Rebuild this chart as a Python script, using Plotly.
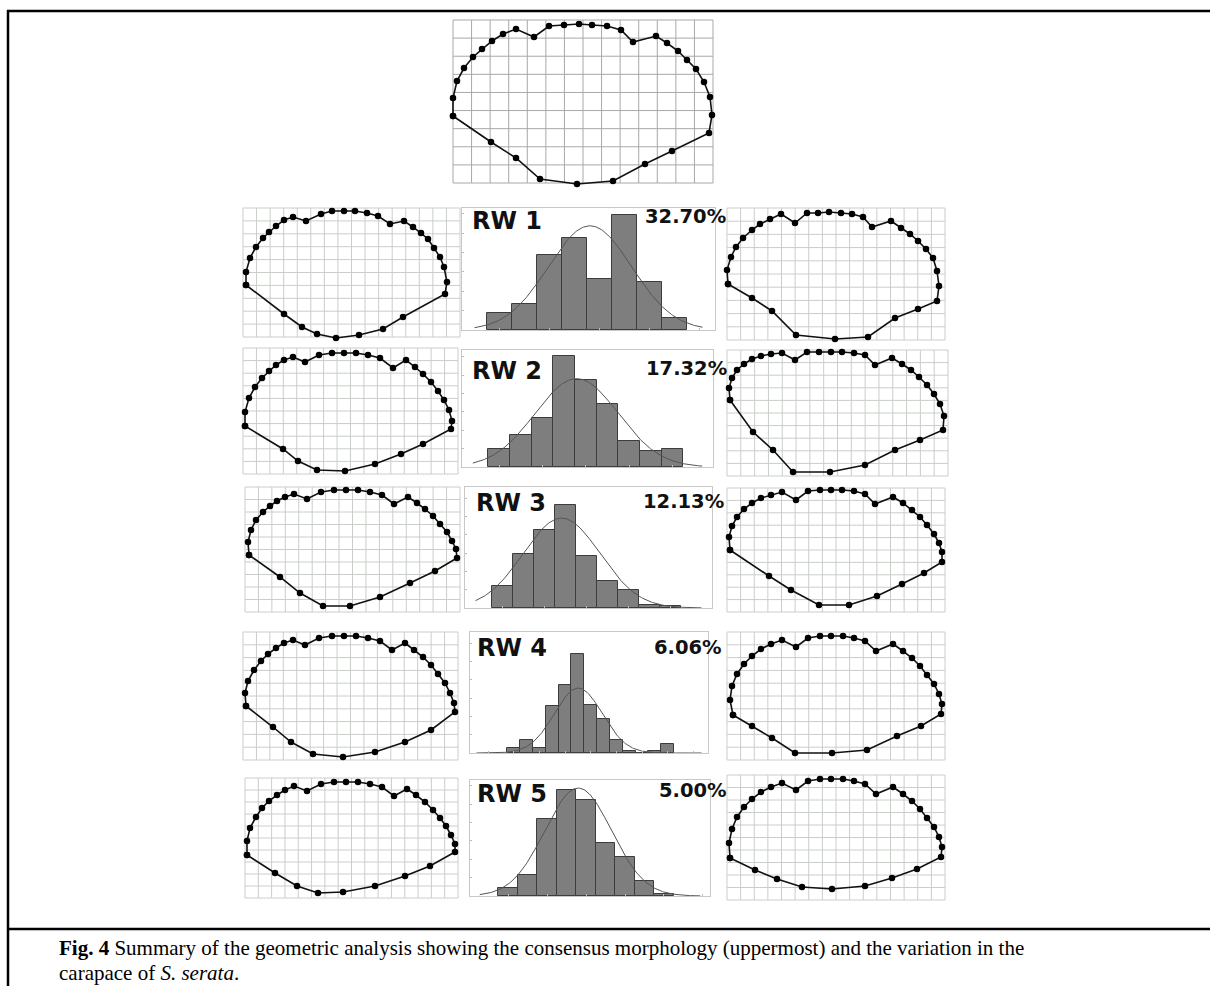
import numpy as np
import plotly.graph_objects as go

W, H = 1210, 986

# ---------------- data ----------------
rw_labels = ["RW 1", "RW 2", "RW 3", "RW 4", "RW 5"]
rw_pct = ["32.70%", "17.32%", "12.13%", "6.06%", "5.00%"]

rw1_counts = [4.3, 6.8, 19.4, 23.8, 13.1, 29.6, 12.4, 3.0]
rw2_counts = [5.0, 8.8, 13.4, 30.2, 23.6, 17.3, 7.0, 4.3, 5.0]
rw3_counts = [5.9, 14.8, 21.4, 28.0, 14.2, 7.5, 4.8, 0.9, 0.45]
rw4_counts = [1.4, 3.6, 1.4, 12.7, 18.5, 27.1, 13.0, 9.4, 3.5, 0.45, 0.0, 0.45, 2.5]
rw5_counts = [2.3, 5.7, 20.9, 28.9, 26.2, 14.5, 10.7, 4.2, 0.5]

# fitted normal curve (mean, sd in bin units, peak in counts)
curve_mean = [3.63, 3.58, 2.83, 5.03, 3.60]
curve_sd = [1.67, 1.92, 1.83, 1.87, 1.71]
curve_peak = [26.9, 24.1, 24.5, 17.7, 29.4]

# histogram axis extents (bin units / counts)
hist_xrange = [[-1.49, 8.63], [-1.71, 9.87], [-1.77, 9.99], [-3.41, 15.14], [-1.95, 10.36]]
hist_ytop = [31.5, 31.9, 33.0, 33.0, 31.6]

# landmark coordinates (local frame of each panel, y downwards)
consensus_x = [0, 0, 4, 11, 20, 29, 39, 50, 63, 81, 96, 111, 126, 139, 154, 168, 180,
               203, 214, 225, 234, 243, 251, 257, 259, 256, 219, 192, 160, 124, 87, 63, 38]
consensus_y = [96, 78, 61, 48, 37, 29, 21, 14, 9, 17, 6, 5, 4, 5, 6, 10, 22,
               16, 23, 31, 40, 49, 62, 77, 95, 113, 131, 144, 161, 164, 159, 138, 122]

rw1_left_x = [3, 3, 7, 13, 20, 26, 33, 41, 50, 63, 78, 89, 101, 112, 124, 135, 147,
              161, 170, 178, 185, 191, 197, 201, 204, 202, 160, 140, 116, 93, 74, 59, 41]
rw1_left_y = [77, 64, 50, 39, 30, 24, 18, 12, 9, 13, 6, 3, 3, 3, 5, 8, 16,
              13, 19, 25, 31, 40, 49, 59, 74, 86, 109, 121, 127, 130, 126, 119, 106]
rw1_right_x = [1, 0, 4, 9, 16, 25, 33, 43, 54, 68, 80, 91, 102, 114, 125, 136, 145,
               164, 174, 183, 191, 199, 206, 210, 212, 210, 191, 168, 141, 108, 69, 45, 25]
rw1_right_y = [76, 62, 49, 39, 30, 22, 16, 11, 6, 15, 5, 5, 4, 5, 6, 9, 19,
               13, 20, 26, 33, 41, 50, 63, 78, 93, 101, 110, 129, 131, 127, 103, 90]

rw2_left_x = [2, 2, 6, 12, 19, 26, 33, 41, 50, 62, 76, 89, 101, 113, 125, 137, 150,
              163, 172, 180, 188, 195, 201, 206, 209, 208, 180, 158, 132, 102, 74, 55, 40]
rw2_left_y = [78, 64, 50, 39, 30, 23, 17, 12, 9, 14, 7, 5, 5, 5, 7, 10, 20,
              12, 19, 26, 34, 43, 52, 62, 73, 81, 96, 106, 116, 123, 122, 113, 101]
rw2_right_x = [3, 2, 5, 10, 17, 25, 34, 44, 55, 68, 80, 92, 104, 115, 127, 138, 148,
               165, 175, 184, 192, 200, 207, 213, 217, 216, 193, 168, 138, 103, 66, 46, 26]
rw2_right_y = [50, 38, 28, 20, 14, 9, 6, 4, 3, 10, 2, 2, 2, 2, 3, 5, 15,
               8, 14, 20, 27, 35, 44, 54, 66, 80, 90, 100, 115, 122, 122, 100, 82]

rw3_left_x = [4, 3, 6, 11, 18, 25, 32, 40, 49, 62, 76, 89, 101, 113, 125, 137, 149,
              163, 172, 180, 188, 195, 202, 207, 211, 212, 190, 165, 135, 105, 78, 55, 35]
rw3_left_y = [68, 55, 43, 33, 25, 19, 14, 10, 7, 12, 5, 3, 3, 3, 5, 8, 17,
              10, 16, 22, 29, 37, 45, 54, 62, 71, 84, 96, 110, 119, 119, 106, 90]
rw3_right_x = [3, 2, 5, 10, 17, 25, 34, 44, 55, 69, 81, 93, 104, 115, 127, 138, 148,
               166, 176, 185, 193, 200, 207, 212, 215, 215, 197, 175, 150, 122, 92, 64, 42]
rw3_right_y = [62, 49, 38, 29, 21, 15, 10, 7, 4, 12, 3, 2, 2, 2, 3, 6, 16,
               9, 15, 22, 29, 37, 46, 55, 64, 74, 85, 96, 108, 117, 117, 102, 88]

rw4_left_x = [3, 2, 5, 11, 18, 25, 33, 41, 50, 62, 76, 89, 101, 113, 125, 137, 149,
              162, 171, 180, 188, 195, 202, 207, 211, 212, 188, 162, 132, 100, 70, 48, 30]
rw4_left_y = [74, 61, 49, 38, 29, 22, 16, 11, 8, 13, 6, 4, 4, 4, 6, 9, 18,
              11, 18, 25, 33, 42, 51, 61, 71, 80, 98, 110, 120, 125, 122, 110, 95]
rw4_right_x = [6, 3, 5, 10, 17, 25, 34, 44, 55, 69, 81, 93, 104, 116, 127, 138, 149,
               166, 176, 185, 193, 200, 207, 212, 215, 214, 194, 170, 140, 105, 68, 45, 25]
rw4_right_y = [83, 68, 54, 42, 32, 24, 17, 12, 8, 15, 6, 4, 4, 4, 6, 9, 19,
               12, 19, 26, 34, 43, 52, 62, 72, 82, 94, 104, 118, 121, 121, 106, 94]

rw5_left_x = [2, 2, 5, 11, 17, 24, 32, 40, 49, 62, 76, 89, 101, 113, 125, 137, 149,
              162, 171, 180, 188, 195, 201, 206, 210, 210, 185, 160, 130, 98, 73, 52, 30]
rw5_left_y = [77, 63, 50, 39, 30, 23, 17, 12, 8, 13, 6, 4, 4, 4, 6, 9, 18,
              11, 17, 24, 32, 40, 48, 57, 66, 74, 88, 98, 108, 114, 115, 108, 95]
rw5_right_x = [3, 2, 5, 10, 17, 25, 34, 44, 55, 69, 81, 93, 104, 116, 127, 138, 149,
               166, 176, 185, 193, 200, 207, 212, 215, 214, 190, 165, 138, 105, 75, 50, 28]
rw5_right_y = [83, 68, 54, 42, 32, 24, 17, 12, 8, 15, 6, 4, 4, 4, 6, 9, 19,
               12, 19, 26, 34, 43, 52, 62, 72, 82, 94, 103, 111, 114, 112, 104, 95]

shape_data = {
    "cons": (consensus_x, consensus_y),
    "L1": (rw1_left_x, rw1_left_y), "R1": (rw1_right_x, rw1_right_y),
    "L2": (rw2_left_x, rw2_left_y), "R2": (rw2_right_x, rw2_right_y),
    "L3": (rw3_left_x, rw3_left_y), "R3": (rw3_right_x, rw3_right_y),
    "L4": (rw4_left_x, rw4_left_y), "R4": (rw4_right_x, rw4_right_y),
    "L5": (rw5_left_x, rw5_left_y), "R5": (rw5_right_x, rw5_right_y),
}
hist_counts = [rw1_counts, rw2_counts, rw3_counts, rw4_counts, rw5_counts]

# ---------------- layout boxes (pixels: x0, y0, x1, y1, cols, rows, grid colour) ----------------
GC = "#c9cec9"
shape_boxes = {
    "cons": (453, 20, 713, 183, 14, 9, "#a8a8a8"),
    "L1": (243, 208, 460, 337, 16, 10, GC), "R1": (727, 208, 945, 340, 16, 10, GC),
    "L2": (243, 348, 458, 474, 16, 10, GC), "R2": (727, 350, 948, 476, 16, 10, GC),
    "L3": (245, 487, 460, 612, 16, 10, GC), "R3": (727, 488, 945, 612, 16, 10, GC),
    "L4": (243, 632, 458, 760, 16, 10, GC), "R4": (727, 632, 945, 760, 16, 10, GC),
    "L5": (245, 778, 458, 898, 16, 10, GC), "R5": (727, 775, 945, 900, 16, 10, GC),
}
hist_boxes = [(462, 208, 715, 330), (462, 350, 713, 467), (465, 487, 712, 608),
              (470, 632, 708, 753), (470, 780, 710, 896)]
label_pos = [(470, 221), (470, 371), (474, 503), (475, 648), (475, 794)]
pct_pos = [(728, 217), (729, 368), (726, 501), (724, 647), (729, 790)]

fig = go.Figure()
layout_axes = {}
counter = [0]


def new_axes(box, xr, yr, **kw):
    counter[0] += 1
    i = counter[0]
    s = "" if i == 1 else str(i)
    x0, y0, x1, y1 = box
    base = dict(showgrid=False, zeroline=False, fixedrange=True)
    xa = dict(base, domain=[x0 / W, x1 / W], range=xr, anchor="y" + s)
    ya = dict(base, domain=[1 - y1 / H, 1 - y0 / H], range=yr, anchor="x" + s)
    xa.update(kw.get("x", {}))
    ya.update(kw.get("y", {}))
    layout_axes["xaxis" + s] = xa
    layout_axes["yaxis" + s] = ya
    return "x" + s, "y" + s


hidden = dict(visible=False)
M = 12  # pixel margin around each grid so that the outline is never clipped

# shapes
for key, (lx, ly) in shape_data.items():
    x0, y0, x1, y1, nc, nr, gcol = shape_boxes[key]
    w, h = x1 - x0, y1 - y0
    xa, ya = new_axes((x0 - M, y0 - M, x1 + M, y1 + M), [-M, w + M], [h + M, -M],
                      x=hidden, y=hidden)
    gx, gy = [], []
    for c in range(nc + 1):
        gx += [c * w / nc, c * w / nc, None]
        gy += [0, h, None]
    for r in range(nr + 1):
        gx += [0, w, None]
        gy += [r * h / nr, r * h / nr, None]
    fig.add_trace(go.Scatter(x=gx, y=gy, mode="lines", line=dict(color=gcol, width=1),
                             xaxis=xa, yaxis=ya, hoverinfo="skip", showlegend=False))
    fig.add_trace(go.Scatter(x=list(lx) + [lx[0]], y=list(ly) + [ly[0]], mode="lines+markers",
                             line=dict(color="#111111", width=1.6),
                             marker=dict(color="#000000", size=6.5),
                             xaxis=xa, yaxis=ya, cliponaxis=False, showlegend=False))

# histograms
annotations = []
for k in range(5):
    box = hist_boxes[k]
    counts = hist_counts[k]
    axstyle = dict(showline=True, mirror=True, linecolor="#c8c8c8", linewidth=1,
                   ticks="inside", ticklen=2, tickcolor="#bbbbbb", showticklabels=False)
    xa, ya = new_axes(box, hist_xrange[k], [0, hist_ytop[k]],
                      x=dict(axstyle, nticks=10), y=dict(axstyle, nticks=9))
    fig.add_trace(go.Bar(x=list(range(len(counts))), y=counts, width=1,
                         marker=dict(color="#7e7e7e", line=dict(color="#3c3c3c", width=1)),
                         xaxis=xa, yaxis=ya, showlegend=False))
    cx = np.linspace(hist_xrange[k][0] + 0.5, hist_xrange[k][1] - 0.5, 200)
    cy = curve_peak[k] * np.exp(-0.5 * ((cx - curve_mean[k]) / curve_sd[k]) ** 2)
    fig.add_trace(go.Scatter(x=cx, y=cy, mode="lines", line=dict(color="#555555", width=1),
                             xaxis=xa, yaxis=ya, showlegend=False))
    lx, lyy = label_pos[k]
    annotations.append(dict(x=lx / W, y=1 - lyy / H, xref="paper", yref="paper",
                            text="<b>%s</b>" % rw_labels[k], showarrow=False,
                            xanchor="left", yanchor="middle",
                            font=dict(family="DejaVu Sans", size=24, color="#111111")))
    px_, py_ = pct_pos[k]
    annotations.append(dict(x=px_ / W, y=1 - py_ / H, xref="paper", yref="paper",
                            text="<b>%s</b>" % rw_pct[k], showarrow=False,
                            xanchor="right", yanchor="middle",
                            font=dict(family="DejaVu Sans", size=19.5, color="#111111")))

# caption
annotations.append(dict(x=57 / W, y=1 - 948 / H, xref="paper", yref="paper", showarrow=False,
                        xanchor="left", yanchor="middle",
                        text="<b>Fig. 4</b> Summary of the geometric analysis showing the consensus morphology (uppermost) and the variation in the",
                        font=dict(family="Liberation Serif", size=21, color="#000000")))
annotations.append(dict(x=57 / W, y=1 - 973 / H, xref="paper", yref="paper", showarrow=False,
                        xanchor="left", yanchor="middle",
                        text="carapace of <i>S. serata</i>.",
                        font=dict(family="Liberation Serif", size=21, color="#000000")))

frame = [
    dict(type="line", xref="paper", yref="paper", x0=8 / W, x1=8 / W, y0=0, y1=1 - 10 / H,
         line=dict(color="black", width=2.5)),
    dict(type="line", xref="paper", yref="paper", x0=7 / W, x1=1, y0=1 - 11 / H, y1=1 - 11 / H,
         line=dict(color="black", width=2.5)),
    dict(type="line", xref="paper", yref="paper", x0=7 / W, x1=1, y0=1 - 929 / H, y1=1 - 929 / H,
         line=dict(color="black", width=2.5)),
]

fig.update_layout(width=W, height=H, autosize=False, margin=dict(l=0, r=0, t=0, b=0),
                  paper_bgcolor="white", plot_bgcolor="rgba(0,0,0,0)",
                  annotations=annotations, shapes=frame, bargap=0, **layout_axes)

fig.write_html("out.html")
